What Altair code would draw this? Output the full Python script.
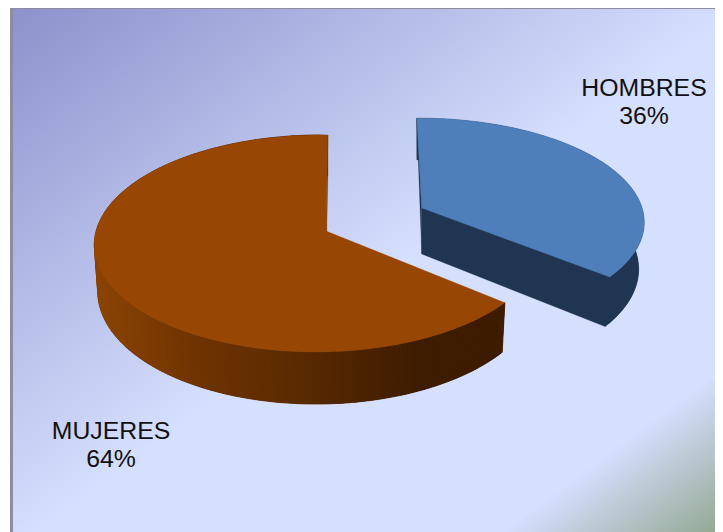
import numpy as np
import altair as alt

labels = ["HOMBRES", "MUJERES"]
shares = [36, 64]

W, H = 707, 524
OFF = 8
TOP = {"HOMBRES": "#4f7fba", "MUJERES": "#974603"}
WALL_X = [97, 200, 300, 420, 505]
WALL_C = [(0x8a, 0x44, 0x03), (0x6e, 0x33, 0x02), (0x5a, 0x2a, 0x01), (0x3e, 0x1c, 0x00), (0x3e, 0x1c, 0x00)]
PROJ = {
    "HOMBRES": dict(X0=421.7, Y0=208, A=220, B=101, S=-5.5, T=-1, k=.125, m=0, sx=.975, sy=1.05, d=46),
    "MUJERES": dict(X0=326, Y0=231, A=222.5, B=107, S=2, T=0, k=.115, m=.032, sx=.985, sy=1.05, d=46),
}
LABEL_POS = {"HOMBRES": (644, 89, 117), "MUJERES": (111, 432, 460)}


def project(u, v, p, bottom=False):
    w = 1 + p["k"] * v + p["m"] * u
    dx = (p["A"] * u + p["S"] * v) / w
    dy = (-p["B"] * v + p["T"] * u) / w
    if bottom:
        return (p["X0"] + p["sx"] * dx - OFF, p["Y0"] + p["d"] + p["sy"] * dy - OFF)
    return (p["X0"] + dx - OFF, p["Y0"] + dy - OFF)


def poly(pts, fill):
    ring = [list(map(float, q)) for q in pts]
    ring.append(ring[0])
    return {"type": "Feature", "geometry": {"type": "Polygon", "coordinates": [ring]},
            "properties": {"fill": fill}}


def wall_colour(x):
    c = [np.interp(x + OFF, WALL_X, [s[i] for s in WALL_C]) for i in range(3)]
    return "#%02x%02x%02x" % tuple(int(round(a)) for a in c)


features = []
start = 0.0
for name, share in zip(labels, shares):
    p = PROJ[name]
    span = share / sum(shares) * 360
    ang = np.radians(np.linspace(start, start + span, int(span) + 2))
    uu, vv = np.sin(ang), np.cos(ang)
    top_rim = [project(a, b, p) for a, b in zip(uu, vv)]
    bot_rim = [project(a, b, p, True) for a, b in zip(uu, vv)]
    apex_t, apex_b = project(0, 0, p), project(0, 0, p, True)
    if name == "HOMBRES":
        dark = "#1f3551"
        features.append(poly(top_rim + bot_rim[::-1], dark))
        # the base outline goes over the rim's end, so no seam shows at the corner
        features.append(poly([apex_b] + bot_rim[::-1] + [top_rim[0], apex_t], dark))
        features.append(poly([apex_t, top_rim[0], apex_b], dark))
    else:
        features.append(poly([apex_t, top_rim[-1], bot_rim[-1], apex_b], "#7b3b03"))
        n = len(ang)
        # painted left to right with overlap, so no seams show between the shades
        for i in range(n - 1, 0, -1):
            j = max(i - 3, 0)
            xm = (top_rim[i][0] + top_rim[i - 1][0]) / 2
            features.append(poly(top_rim[j:i + 1] + bot_rim[j:i + 1][::-1], wall_colour(xm)))
    features.append(poly([apex_t] + top_rim, TOP[name]))
    start += span

x_scale = alt.Scale(domain=[8, 8 + W], range=[0, W], nice=False, zero=False)
y_scale = alt.Scale(domain=[8 + H, 8], range=[H, 0], nice=False, zero=False)

frame = alt.Data(values=[{"a": 10, "b": 8 + W, "c": 8, "d": 8 + H}])
bg = alt.Chart(frame).mark_rect(
    color=alt.Gradient(
        gradient="linear", x1=0, y1=0, x2=1, y2=1,
        stops=[alt.GradientStop(offset=0, color="#8c91cb"),
               alt.GradientStop(offset=.52, color="#d5dffe"),
               alt.GradientStop(offset=.85, color="#d5dffe"),
               alt.GradientStop(offset=1, color="#94a994")])
).encode(x=alt.X("a:Q", scale=x_scale, axis=None), x2="b:Q",
         y=alt.Y("c:Q", scale=y_scale, axis=None), y2="d:Q")

border_left = alt.Chart(alt.Data(values=[{"a": 10, "b": 13, "c": 8, "d": 8 + H}])).mark_rect(color="#8c8da0").encode(
    x=alt.X("a:Q", scale=x_scale, axis=None), x2="b:Q",
    y=alt.Y("c:Q", scale=y_scale, axis=None), y2="d:Q")
border_top = alt.Chart(alt.Data(values=[{"a": 10, "b": 8 + W, "c": 8, "d": 9}])).mark_rect(color="#8c8da0").encode(
    x=alt.X("a:Q", scale=x_scale, axis=None), x2="b:Q",
    y=alt.Y("c:Q", scale=y_scale, axis=None), y2="d:Q")

pie = alt.Chart(alt.Data(values=features)).mark_geoshape(strokeWidth=0.3).encode(
    fill=alt.Fill("properties.fill:N", scale=None),
    stroke=alt.Stroke("properties.fill:N", scale=None),
).project(type="identity", scale=1, translate=[0, 0])

rows = []
for name, share in zip(labels, shares):
    xp, y1, y2 = LABEL_POS[name]
    rows.append({"t": name, "x": xp, "y": y1})
    rows.append({"t": f"{share}%", "x": xp, "y": y2})
text = alt.Chart(alt.Data(values=rows)).mark_text(
    font="Liberation Sans", fontSize=24.8, color="#111111", align="center", baseline="middle"
).encode(x=alt.X("x:Q", scale=x_scale, axis=None), y=alt.Y("y:Q", scale=y_scale, axis=None), text="t:N")

chart = alt.layer(bg, border_left, border_top, pie, text).resolve_scale(x="shared", y="shared").properties(
    width=W, height=H, padding=0, background="white",
    autosize=alt.AutoSizeParams(type="none")
).configure_view(stroke=None)

chart.save("out.html", embed_options={"renderer": "svg", "actions": False})
